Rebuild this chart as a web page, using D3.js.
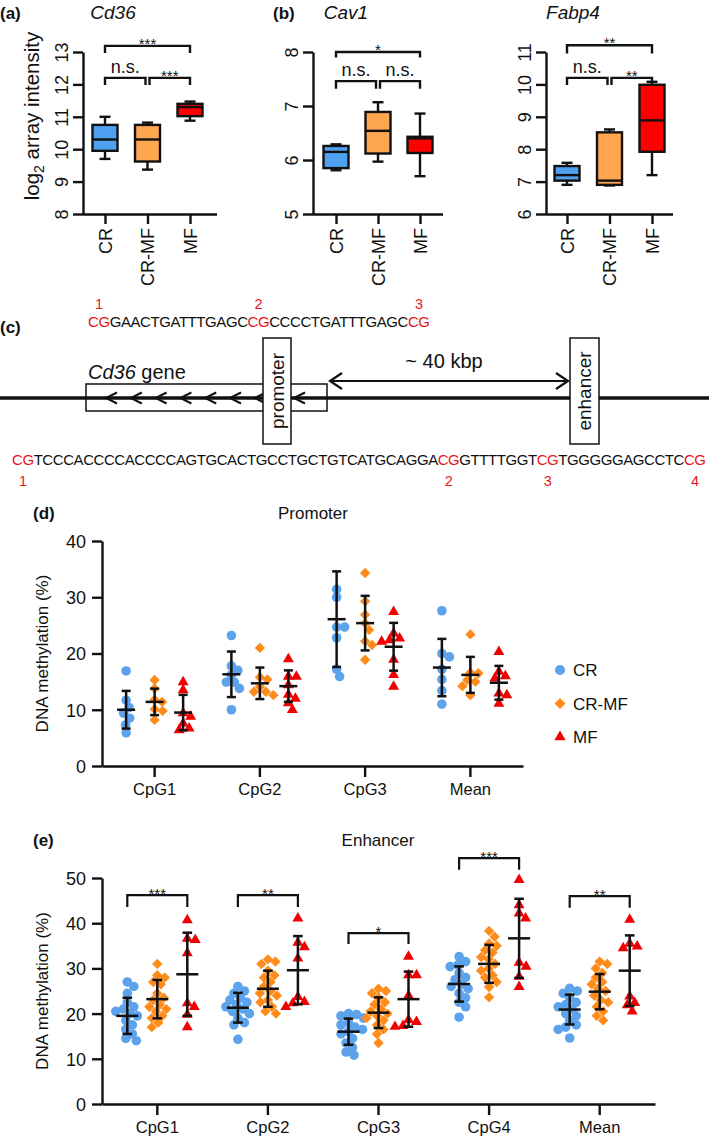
<!DOCTYPE html>
<html><head><meta charset="utf-8">
<script src="https://cdn.jsdelivr.net/npm/d3@7"></script>
<style>
body{margin:0;background:#fff}
svg{display:block}
text{font-family:"Liberation Sans",Arial,sans-serif;fill:#111}
</style>
</head><body>
<svg id="fig" width="709" height="1141"></svg>
<script>
// ================= DATA =================
const groups = ["CR", "CR-MF", "MF"];
const boxFill = ["#4FA0F0", "#FFA650", "#FF0000"];
const dotFill = ["#5CA3EC", "#FF8C1A", "#F00000"];

// box stats per group: [low whisker, Q1, median, Q3, high whisker]
const cd36Box  = [[9.70, 9.95, 10.30, 10.75, 11.00], [9.37, 9.62, 10.30, 10.75, 10.82], [10.88, 11.02, 11.30, 11.40, 11.47]];
const cav1Box  = [[5.81, 5.85, 6.15, 6.26, 6.29], [5.97, 6.12, 6.54, 6.89, 7.07], [5.70, 6.13, 6.40, 6.43, 6.86]];
const fabp4Box = [[6.90, 7.03, 7.20, 7.48, 7.58], [6.88, 6.90, 7.03, 8.52, 8.61], [7.20, 7.92, 8.89, 9.99, 10.08]];
const cd36Ticks  = [8, 9, 10, 11, 12, 13];
const cav1Ticks  = [5, 6, 7, 8];
const fabp4Ticks = [6, 7, 8, 9, 10, 11];
// significance: [from, to, bracket level, leg end, label]
const cd36Sig  = [["CR", "MF", 13.19, 12.97, "***"], ["CR", "CR-MF", 12.20, 11.98, "n.s."], ["CR-MF", "MF", 12.20, 11.98, "***"]];
const cav1Sig  = [["CR", "MF", 8.00, 7.90, "*"], ["CR", "CR-MF", 7.46, 7.32, "n.s."], ["CR-MF", "MF", 7.46, 7.32, "n.s."]];
const fabp4Sig = [["CR", "MF", 11.21, 10.95, "**"], ["CR", "CR-MF", 10.20, 9.98, "n.s."], ["CR-MF", "MF", 10.20, 9.98, "**"]];

// panel c sequences
const topSeq = "CGGAACTGATTTGAGCCGCCCCTGATTTGAGCCG";
const bottomSeq = "CGTCCCACCCCACCCCAGTGCACTGCCTGCTGTCATGCAGGACGGTTTTGGTCGTGGGGGAGCCTCCG";

// panel d (promoter) – DNA methylation %
const promCats = ["CpG1", "CpG2", "CpG3", "Mean"];
const promCR   = [[16.9, 11.7, 10.4, 9.4, 8.5, 7.3, 5.9], [23.2, 17.8, 17.0, 16.2, 14.9, 14.9, 13.8, 10.0], [31.4, 30.0, 24.7, 24.7, 22.8, 17.2, 15.9], [27.6, 20.0, 19.4, 17.2, 15.4, 13.4, 11.0]];
const promCRMF = [[15.3, 13.8, 11.8, 11.4, 10.1, 9.8, 8.2], [21.0, 15.8, 15.4, 14.1, 13.2, 13.2, 12.6], [34.3, 29.3, 26.9, 25.4, 24.2, 22.2, 21.5, 18.9], [23.4, 16.6, 16.5, 15.3, 15.0, 14.2, 12.6]];
const promMF   = [[14.9, 13.5, 9.4, 8.8, 7.6, 6.7, 6.4], [19.0, 15.9, 15.9, 14.4, 12.7, 12.0, 11.2, 10.0], [27.4, 23.6, 22.7, 22.4, 22.1, 18.9, 16.2, 14.1], [20.3, 16.8, 16.0, 15.6, 12.9, 12.6, 11.1]];
// [mean, SD]
const promCRStat   = [[10.0, 3.35], [16.3, 4.05], [26.1, 8.5], [17.5, 5.1]];
const promCRMFStat = [[11.4, 2.35], [14.7, 2.8], [25.4, 4.85], [16.2, 3.2]];
const promMFStat   = [[9.5, 3.15], [14.2, 2.8], [21.2, 4.25], [14.8, 3.0]];
const promTicks = [0, 10, 20, 30, 40];

// panel e (enhancer)
const enhCats = ["CpG1", "CpG2", "CpG3", "CpG4", "Mean"];
const enhCR = [
  [27.0, 26.0, 24.5, 22.5, 21.5, 21.0, 20.5, 20.0, 19.5, 18.5, 17.5, 16.5, 15.5, 14.5, 14.0],
  [26.0, 25.0, 24.5, 23.5, 23.0, 22.5, 22.0, 21.5, 21.0, 20.5, 20.0, 19.0, 18.0, 17.5, 14.3],
  [20.0, 19.8, 19.5, 19.0, 18.0, 17.5, 17.0, 16.5, 16.0, 15.5, 14.5, 13.5, 12.5, 11.5, 10.8],
  [32.6, 31.5, 30.8, 30.4, 29.0, 28.0, 27.5, 26.5, 26.0, 25.5, 24.5, 23.5, 22.5, 21.5, 19.2],
  [25.6, 25.0, 24.5, 23.5, 22.5, 22.0, 21.5, 21.0, 20.0, 19.5, 18.5, 17.5, 17.0, 16.5, 14.6]];
const enhCRMF = [
  [31.0, 28.5, 28.0, 27.0, 26.5, 24.5, 23.5, 23.0, 22.0, 21.5, 21.0, 20.5, 19.5, 19.0, 18.0, 17.0],
  [32.0, 31.5, 31.0, 29.5, 28.5, 28.0, 27.0, 26.0, 25.0, 24.5, 24.0, 23.0, 22.5, 21.5, 20.5, 20.0],
  [25.5, 25.0, 24.5, 23.5, 22.5, 22.0, 21.0, 20.5, 20.0, 19.5, 19.0, 18.5, 17.5, 16.5, 15.5, 13.5],
  [38.3, 37.0, 35.5, 35.0, 34.0, 33.5, 32.5, 32.0, 31.0, 30.0, 29.5, 28.5, 28.0, 27.0, 25.9, 23.6],
  [31.5, 31.0, 30.0, 29.0, 28.0, 27.0, 26.5, 25.5, 25.0, 24.0, 23.0, 22.5, 21.5, 20.5, 19.5, 18.5]];
const enhMF = [
  [40.7, 36.6, 36.3, 33.4, 22.3, 21.5, 19.8, 17.0],
  [41.1, 35.7, 34.7, 32.2, 23.7, 22.6, 22.3, 21.5],
  [32.6, 28.5, 28.5, 24.0, 18.6, 18.2, 17.3, 17.1],
  [49.6, 44.0, 42.2, 41.1, 31.3, 30.4, 28.2, 25.9],
  [40.8, 35.5, 34.9, 34.5, 23.8, 22.4, 21.9, 20.5]];
const enhCRStat   = [[19.5, 4.0], [21.3, 3.3], [16.0, 2.9], [26.55, 3.9], [20.9, 3.3]];
const enhCRMFStat = [[23.2, 4.25], [25.5, 4.0], [20.2, 3.4], [31.0, 4.2], [24.85, 3.9]];
const enhMFStat   = [[28.7, 9.2], [29.6, 7.55], [23.2, 6.1], [36.65, 8.75], [29.5, 7.8]];
const enhTicks = [0, 10, 20, 30, 40, 50];
// [category, bracket level, leg end, label]  (CR vs MF)
const enhSig = [["CpG1", 46.2, 43.6, "***"], ["CpG2", 46.2, 43.6, "**"], ["CpG3", 37.8, 35.4, "*"], ["CpG4", 54.4, 51.8, "***"], ["Mean", 46.0, 43.4, "**"]];

// ================= DRAW =================
const svg = d3.select("#fig");
svg.append("rect").attr("width", 709).attr("height", 1141).attr("fill", "#fff");
const SW = 2.4;

function styleAxis(g) {
  g.attr("font-size", null).attr("font-family", null);
  g.select(".domain").attr("stroke", "#111").attr("stroke-width", SW);
  g.selectAll(".tick line").attr("stroke", "#111").attr("stroke-width", SW);
}

function label(x, y, txt, size, opts = {}) {
  const t = svg.append("text").attr("x", x).attr("y", y).style("font-size", size + "px").text(txt);
  if (opts.anchor) t.attr("text-anchor", opts.anchor);
  if (opts.bold) t.style("font-weight", "bold");
  if (opts.italic) t.style("font-style", "italic");
  if (opts.fill) t.style("fill", opts.fill);
  return t;
}

// ---------- box panels ----------
function boxPanel(c) {
  const g = svg.append("g");
  const y = d3.scaleLinear().domain(c.domain).range([214, 52]);
  const x = d3.scalePoint().domain(groups).range(c.cats);
  const ya = g.append("g").attr("transform", `translate(${c.axisX},0)`)
    .call(d3.axisLeft(y).tickValues(c.ticks).tickSize(10).tickSizeOuter(0).tickFormat(d3.format("d")));
  styleAxis(ya);
  ya.selectAll(".tick text").attr("transform", "rotate(-90)").attr("x", 0).attr("y", -15).attr("dy", 0)
    .attr("text-anchor", "middle").style("font-size", "18px");
  const xa = g.append("g").attr("transform", `translate(0,214)`)
    .call(d3.axisBottom(x).tickSize(10).tickSizeOuter(0));
  styleAxis(xa);
  xa.select(".domain").attr("d", `M${c.axisX},0.5H${c.axisEnd}`);
  xa.selectAll(".tick text").attr("transform", "rotate(-90)").attr("x", -14).attr("y", 0).attr("dy", "0.36em")
    .attr("text-anchor", "end").style("font-size", "18px");

  const bw = 25, cw = 11;
  groups.forEach((grp, i) => {
    const s = c.stats[i], cx = x(grp);
    const gg = g.append("g").attr("stroke", "#111").attr("stroke-width", SW).attr("fill", "none");
    gg.append("line").attr("x1", cx).attr("x2", cx).attr("y1", y(s[0])).attr("y2", y(s[4]));
    gg.append("line").attr("x1", cx - cw / 2).attr("x2", cx + cw / 2).attr("y1", y(s[0])).attr("y2", y(s[0]));
    gg.append("line").attr("x1", cx - cw / 2).attr("x2", cx + cw / 2).attr("y1", y(s[4])).attr("y2", y(s[4]));
    gg.append("rect").attr("x", cx - bw / 2).attr("width", bw).attr("y", y(s[3])).attr("height", y(s[1]) - y(s[3]))
      .attr("fill", boxFill[i]);
    gg.append("line").attr("x1", cx - bw / 2).attr("x2", cx + bw / 2).attr("y1", y(s[2])).attr("y2", y(s[2]));
  });
  c.sig.forEach(([a, b, lv, leg, lab]) => {
    let x1 = x(a), x2 = x(b);
    if (a === "CR-MF") x1 += 2;
    if (b === "CR-MF") x2 -= 2;
    g.append("path").attr("d", `M${x1},${y(leg)}V${y(lv)}H${x2}V${y(leg)}`)
      .attr("fill", "none").attr("stroke", "#111").attr("stroke-width", SW);
    const isStar = lab.includes("*");
    g.append("text").attr("x", (x1 + x2) / 2).attr("y", y(lv) - (isStar ? -3 : 5)).attr("text-anchor", "middle")
      .style("font-size", isStar ? "15px" : "18px").text(lab);
  });
  label(c.titleX, 19, c.title, 19, { anchor: "middle", italic: true });
}

boxPanel({ domain: [8, 13], ticks: cd36Ticks, stats: cd36Box, sig: cd36Sig, axisX: 83, axisEnd: 217, cats: [105, 190], title: "Cd36", titleX: 113 });
boxPanel({ domain: [5, 8], ticks: cav1Ticks, stats: cav1Box, sig: cav1Sig, axisX: 313, axisEnd: 443, cats: [336, 420], title: "Cav1", titleX: 346 });
boxPanel({ domain: [6, 11], ticks: fabp4Ticks, stats: fabp4Box, sig: fabp4Sig, axisX: 546, axisEnd: 673, cats: [567, 652], title: "Fabp4", titleX: 573 });
label(0, 19, "(a)", 17, { bold: true });
label(273, 19, "(b)", 17, { bold: true });
// y label for (a)
const yl = svg.append("text").attr("transform", "translate(39,116) rotate(-90)").attr("text-anchor", "middle").style("font-size", "20.5px");
yl.append("tspan").text("log");
yl.append("tspan").attr("dy", 5).style("font-size", "14px").text("2");
yl.append("tspan").attr("dy", -5).text(" array intensity");

// ---------- panel c ----------
label(0, 333, "(c)", 17, { bold: true });
function seqText(seq, x0, x1, yb, numY) {
  const t = svg.append("text").attr("x", x0).attr("y", yb).style("font-size", "15px")
    .attr("textLength", x1 - x0).attr("lengthAdjust", "spacing");
  const parts = [];
  const re = /CG/g; let m, last = 0; const cgIdx = [];
  while ((m = re.exec(seq)) !== null) { cgIdx.push(m.index); if (m.index > last) parts.push([seq.slice(last, m.index), false]); parts.push(["CG", true]); last = m.index + 2; }
  if (last < seq.length) parts.push([seq.slice(last), false]);
  parts.forEach(([s, red]) => t.append("tspan").style("fill", red ? "#E8141B" : "#111").text(s));
  const node = t.node();
  cgIdx.forEach((ci, k) => {
    const a = node.getStartPositionOfChar(ci).x, b = node.getEndPositionOfChar(ci + 1).x;
    label((a + b) / 2, numY, String(k + 1), 14.5, { anchor: "middle", fill: "#E8141B" });
  });
}
seqText(topSeq, 88, 430, 327, 309);
seqText(bottomSeq, 12, 706, 465, 486);

// genomic line
svg.append("line").attr("x1", 0).attr("x2", 709).attr("y1", 398).attr("y2", 398).attr("stroke", "#111").attr("stroke-width", 3.4);
svg.append("rect").attr("x", 86).attr("y", 384).attr("width", 241).attr("height", 27).attr("fill", "none").attr("stroke", "#111").attr("stroke-width", 1.5);
const chevX = d3.range(7).map(i => 106 + i * 24.8).concat([294]);
chevX.forEach(cx => svg.append("path").attr("d", `M${cx + 11},${392.5}L${cx},398L${cx + 11},403.5`).attr("fill", "none").attr("stroke", "#111").attr("stroke-width", 2));
function vbox(x, w, txt) {
  svg.append("rect").attr("x", x).attr("y", 338).attr("width", w).attr("height", 106).attr("fill", "#fff").attr("stroke", "#111").attr("stroke-width", 1.5);
  svg.append("text").attr("transform", `translate(${x + w / 2 + 6.5},391) rotate(-90)`).attr("text-anchor", "middle").style("font-size", "19px").text(txt);
}
vbox(263, 28, "promoter");
vbox(570, 29, "enhancer");
const gl = svg.append("text").attr("x", 88).attr("y", 379).style("font-size", "20px");
gl.append("tspan").style("font-style", "italic").text("Cd36");
gl.append("tspan").text(" gene");
svg.append("path").attr("d", "M342,373L330,381L342,389M330,381H568M556,373L568,381L556,389").attr("fill", "none").attr("stroke", "#111").attr("stroke-width", 2.2);
label(444, 368, "~ 40 kbp", 20, { anchor: "middle" });

// ---------- scatter panels ----------
// simple beeswarm: nearest free horizontal slot, balancing sides
function swarm(vals, y, d) {
  const order = d3.range(vals.length).sort((a, b) => vals[b] - vals[a]);
  const placed = [], off = new Array(vals.length);
  order.forEach(i => {
    const py = y(vals[i]);
    const near = placed.filter(p => Math.abs(p.y - py) < d);
    const bias = d3.sum(near, p => Math.sign(p.x));
    const cands = [0];
    for (let k = 0.5; k <= 30; k += 0.5) { if (bias > 0) cands.push(-k, k); else cands.push(k, -k); }
    let best = 0;
    for (const c of cands) {
      if (placed.every(p => (p.x - c) ** 2 + (p.y - py) ** 2 >= d * d)) { best = c; break; }
    }
    placed.push({ x: best, y: py }); off[i] = best;
  });
  return off;
}

function scatterPanel(c) {
  const g = svg.append("g");
  const y = d3.scaleLinear().domain(c.domain).range([c.bottom, c.top]);
  const x = d3.scaleBand().domain(c.cats).range([102, c.axisEnd]).padding(0);
  const off = d3.scalePoint().domain(groups).range([-c.spread, c.spread]);
  const ya = g.append("g").attr("transform", "translate(102,0)")
    .call(d3.axisLeft(y).tickValues(c.ticks).tickSize(10).tickSizeOuter(0).tickPadding(6));
  styleAxis(ya);
  ya.selectAll(".tick text").style("font-size", "18px").attr("dy", "0.36em");
  const xa = g.append("g").attr("transform", `translate(0,${c.bottom})`)
    .call(d3.axisBottom(x).tickSize(11).tickSizeOuter(0).tickPadding(6));
  styleAxis(xa);
  xa.selectAll(".tick text").style("font-size", "16.5px").attr("dy", "0.71em");

  const sets = [c.cr, c.crmf, c.mf];
  const stats = [c.crStat, c.crmfStat, c.mfStat];
  const shapes = [d3.symbol(d3.symbolCircle, 72), d3.symbol(d3.symbolSquare, 54), d3.symbol(d3.symbolTriangle, 52)];
  const mg = g.append("g");
  c.cats.forEach((cat, ci) => {
    groups.forEach((grp, gi) => {
      const vals = sets[gi][ci];
      const o = swarm(vals, y, 7.8);
      const cx = x(cat) + x.bandwidth() / 2 + off(grp);
      mg.selectAll(null).data(vals).enter().append("path")
        .attr("d", shapes[gi])
        .attr("transform", (v, k) => `translate(${cx + o[k]},${y(v)})` + (gi === 1 ? " rotate(45)" : ""))
        .attr("fill", dotFill[gi]);
    });
  });
  const eg = g.append("g").attr("stroke", "#111").attr("stroke-width", 2.5).attr("fill", "none");
  c.cats.forEach((cat, ci) => {
    groups.forEach((grp, gi) => {
      const [m, sd] = stats[gi][ci];
      const cx = x(cat) + x.bandwidth() / 2 + off(grp);
      eg.append("line").attr("x1", cx).attr("x2", cx).attr("y1", y(m - sd)).attr("y2", y(m + sd));
      eg.append("line").attr("x1", cx - c.cap).attr("x2", cx + c.cap).attr("y1", y(m - sd)).attr("y2", y(m - sd));
      eg.append("line").attr("x1", cx - c.cap).attr("x2", cx + c.cap).attr("y1", y(m + sd)).attr("y2", y(m + sd));
      eg.append("line").attr("x1", cx - c.meanW).attr("x2", cx + c.meanW).attr("y1", y(m)).attr("y2", y(m));
    });
  });
  if (c.sig) c.sig.forEach(([cat, lv, leg, lab]) => {
    const cx = x(cat) + x.bandwidth() / 2;
    const x1 = cx + off("CR"), x2 = cx + off("MF");
    g.append("path").attr("d", `M${x1},${y(leg)}V${y(lv)}H${x2}V${y(leg)}`).attr("fill", "none").attr("stroke", "#111").attr("stroke-width", 2.2);
    g.append("text").attr("x", (x1 + x2) / 2).attr("y", y(lv) + 3.5).attr("text-anchor", "middle").style("font-size", "15px").text(lab);
  });
  svg.append("text").attr("transform", `translate(48,${(c.top + c.bottom) / 2}) rotate(-90)`).attr("text-anchor", "middle")
    .style("font-size", "17px").text("DNA methylation (%)");
  label(c.titleX, c.titleY, c.title, 17, { anchor: "middle" });
  label(33, c.titleY, c.letter, 17, { bold: true });
}

scatterPanel({ domain: [0, 40], ticks: promTicks, top: 541, bottom: 766, axisEnd: 523, cats: promCats, spread: 28.5, cap: 4.5, meanW: 9,
  cr: promCR, crmf: promCRMF, mf: promMF, crStat: promCRStat, crmfStat: promCRMFStat, mfStat: promMFStat,
  title: "Promoter", titleX: 313, titleY: 519, letter: "(d)" });
scatterPanel({ domain: [0, 50], ticks: enhTicks, top: 878, bottom: 1104, axisEnd: 655, cats: enhCats, spread: 30, cap: 4.8, meanW: 11,
  cr: enhCR, crmf: enhCRMF, mf: enhMF, crStat: enhCRStat, crmfStat: enhCRMFStat, mfStat: enhMFStat, sig: enhSig,
  title: "Enhancer", titleX: 378, titleY: 846, letter: "(e)" });

// legend
const lg = svg.append("g");
const legShapes = [d3.symbol(d3.symbolCircle, 80), d3.symbol(d3.symbolSquare, 60), d3.symbol(d3.symbolTriangle, 56)];
groups.forEach((grp, i) => {
  const ly = 670 + i * 33.5;
  lg.append("path").attr("d", legShapes[i]).attr("transform", `translate(560,${ly})` + (i === 1 ? " rotate(45)" : "")).attr("fill", dotFill[i]);
  lg.append("text").attr("x", 573).attr("y", ly + 6).style("font-size", "17px").text(grp);
});
</script>
</body></html>
